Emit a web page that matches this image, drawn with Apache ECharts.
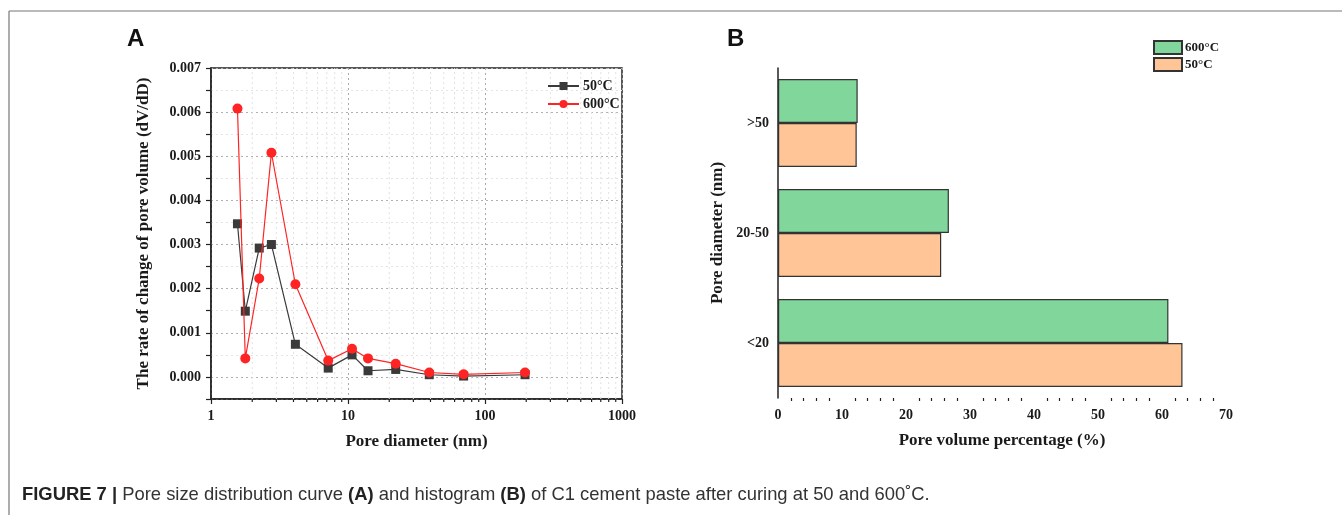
<!DOCTYPE html>
<html>
<head>
<meta charset="utf-8">
<script src="https://cdn.jsdelivr.net/npm/echarts@6/dist/echarts.min.js"></script>
<style>
  html, body { margin: 0; padding: 0; background: #fff; }
  #chart { width: 1342px; height: 515px; }
</style>
</head>
<body>
<div id="chart"></div>
<script>
// ---- Panel A: pore size distribution (log x axis) ----
const poreDiameter = [1.56, 1.78, 2.25, 2.76, 4.13, 7.17, 10.7, 14.0, 22.3, 39.2, 69.8, 196];
const rate50 = [0.00347, 0.00149, 0.00292, 0.00300, 0.00074, 0.00020, 0.00050, 0.00014, 0.00017, 0.00005, 0.00002, 0.00005];
const rate600 = [0.00608, 0.00042, 0.00223, 0.00508, 0.00210, 0.00037, 0.00064, 0.00042, 0.00030, 0.00010, 0.00006, 0.00010];
const xTickLabels = ['1', '10', '100', '1000'];

// ---- Panel B: pore volume percentage by size class ----
const sizeClasses = ['<20', '20-50', '>50'];
const pct50 = [63.2, 25.5, 12.3];
const pct600 = [61.0, 26.7, 12.45];

const SERIF = '"Liberation Serif", "Times New Roman", serif';
const SANS = '"Liberation Sans", Arial, sans-serif';
const Y_MIN = -0.0005, Y_MAX = 0.007;

// minor decade subdivisions on the log axis (2..9, 20..90, 200..900)
const minorX = [];
for (let d = 1; d < 1000; d *= 10) {
  for (let k = 2; k <= 9; k++) minorX.push(k * d);
}

const chart = echarts.init(document.getElementById('chart'), null, { renderer: 'canvas' });

const boldLabel = { fontFamily: SERIF, fontWeight: 'bold', fontSize: 14, color: '#1a1a1a' };

const option = {
  animation: false,
  backgroundColor: '#fff',
  grid: [
    { left: 211, right: 720, top: 68, bottom: 116, show: true, borderColor: '#222', borderWidth: 1.5, backgroundColor: 'transparent' },
    { left: 778, right: 116, top: 68, bottom: 117 }
  ],
  xAxis: [
    {
      type: 'log', gridIndex: 0, logBase: 10, min: 1, max: 1000,
      axisLine: { onZero: false, lineStyle: { color: '#222', width: 1.5 } },
      axisTick: { length: 5, lineStyle: { color: '#222', width: 1.2 } },
      axisLabel: Object.assign({ margin: 10, formatter: v => xTickLabels[Math.round(Math.log10(v))] }, boldLabel),
      splitLine: { show: true, lineStyle: { color: '#aaa', type: [2, 3], width: 1 } },
      name: 'Pore diameter (nm)', nameLocation: 'middle', nameGap: 34,
      nameTextStyle: { fontFamily: SERIF, fontWeight: 'bold', fontSize: 17, color: '#1a1a1a' }
    },
    {
      type: 'value', gridIndex: 1, min: 0, max: 70, interval: 10,
      axisLine: { onZero: false, lineStyle: { color: '#222', width: 1.5 } },
      axisTick: { length: 5, lineStyle: { color: '#222', width: 1.4 } },
      minorTick: { show: true, splitNumber: 5, length: 3, lineStyle: { color: '#222', width: 1.2 } },
      axisLabel: Object.assign({ margin: 10 }, boldLabel),
      splitLine: { show: false },
      name: 'Pore volume percentage (%)', nameLocation: 'middle', nameGap: 34,
      nameTextStyle: { fontFamily: SERIF, fontWeight: 'bold', fontSize: 17, color: '#1a1a1a' }
    }
  ],
  yAxis: [
    {
      type: 'value', gridIndex: 0, min: Y_MIN, max: Y_MAX, interval: 0.0005,
      axisLine: { show: true, onZero: false, lineStyle: { color: '#222', width: 1.5 } },
      axisTick: { show: true, length: 5, lineStyle: { color: '#222', width: 1.2 } },
      axisLabel: Object.assign({
        margin: 10,
        formatter: v => {
          const m = v * 1000;
          if (v < 0 || Math.abs(m - Math.round(m)) > 1e-6) return '';
          return (Math.round(m) / 1000).toFixed(3);
        }
      }, boldLabel),
      splitLine: { show: true, lineStyle: { color: ['#e4e4e4', '#b0b0b0'], type: [2, 3], width: 1 } },
      name: 'The rate of change of pore volume (dV/dD)', nameLocation: 'middle', nameGap: 59,
      nameTextStyle: { fontFamily: SERIF, fontWeight: 'bold', fontSize: 17, color: '#1a1a1a' }
    },
    {
      type: 'category', gridIndex: 1, data: sizeClasses,
      axisLine: { onZero: false, lineStyle: { color: '#222', width: 1.5 } },
      axisTick: { length: 5, lineStyle: { color: '#222', width: 1.2 } },
      axisLabel: Object.assign({ margin: 9 }, boldLabel),
      name: 'Pore diameter (nm)', nameLocation: 'middle', nameGap: 52,
      nameTextStyle: { fontFamily: SERIF, fontWeight: 'bold', fontSize: 17, color: '#1a1a1a' }
    }
  ],
  legend: [
    {
      data: ['50°C', '600°C'], orient: 'vertical', left: 542, top: 74,
      itemWidth: 31, itemHeight: 10, itemGap: 4,
      textStyle: { fontFamily: SERIF, fontWeight: 'bold', fontSize: 14, color: '#1a1a1a', padding: [0, 0, 0, -1] }
    },
    {
      data: [{ name: '600°C ', icon: 'rect' }, { name: '50°C ', icon: 'rect' }], orient: 'vertical', left: 1148, top: 35,
      itemWidth: 28, itemHeight: 13, itemGap: 2,
      textStyle: { fontFamily: SERIF, fontWeight: 'bold', fontSize: 13, color: '#1a1a1a', padding: [0, 0, 0, -2] }
    }
  ],
  series: [
    {
      // light dotted gridlines and short ticks at the minor decade positions
      type: 'custom', xAxisIndex: 0, yAxisIndex: 0, silent: true, z: 1,
      data: minorX.map(v => [v, 0]),
      renderItem: (params, api) => {
        const v = api.value(0);
        const b = api.coord([v, Y_MIN]);
        const t = api.coord([v, Y_MAX]);
        return {
          type: 'group',
          children: [
            { type: 'line', shape: { x1: b[0], y1: b[1], x2: t[0], y2: t[1] }, style: { stroke: '#e2e2e2', lineWidth: 1, lineDash: [2, 3] } },
            { type: 'line', shape: { x1: b[0], y1: b[1], x2: b[0], y2: b[1] + 3 }, style: { stroke: '#222', lineWidth: 1.2 } }
          ]
        };
      }
    },
    {
      name: '50°C', type: 'line', xAxisIndex: 0, yAxisIndex: 0, z: 3,
      data: poreDiameter.map((d, i) => [d, rate50[i]]),
      symbol: 'rect', symbolSize: 9,
      lineStyle: { color: '#3a3a3a', width: 1.2 },
      itemStyle: { color: '#3a3a3a' }
    },
    {
      name: '600°C', type: 'line', xAxisIndex: 0, yAxisIndex: 0, z: 4,
      data: poreDiameter.map((d, i) => [d, rate600[i]]),
      symbol: 'circle', symbolSize: 10,
      lineStyle: { color: '#ff2424', width: 1.2 },
      itemStyle: { color: '#ff2424' }
    },
    {
      name: '600°C ', type: 'bar', xAxisIndex: 1, yAxisIndex: 1,
      data: pct600, barGap: '0%', barCategoryGap: '20%',
      itemStyle: { color: '#80d69b', borderColor: '#333', borderWidth: 1.2 }
    },
    {
      name: '50°C ', type: 'bar', xAxisIndex: 1, yAxisIndex: 1,
      data: pct50, barGap: '0%', barCategoryGap: '20%',
      itemStyle: { color: '#ffc596', borderColor: '#333', borderWidth: 1.2 }
    }
  ],
  graphic: [
    { type: 'line', shape: { x1: 9, y1: 11, x2: 1342, y2: 11 }, style: { stroke: '#777', lineWidth: 1.2 } },
    { type: 'line', shape: { x1: 9, y1: 11, x2: 9, y2: 515 }, style: { stroke: '#777', lineWidth: 1.2 } },
    { type: 'text', left: 127, top: 27, style: { text: 'A', font: 'bold 24px ' + SANS, fill: '#111' } },
    { type: 'text', left: 727, top: 27, style: { text: 'B', font: 'bold 24px ' + SANS, fill: '#111' } },
    {
      type: 'text', left: 22, top: 486,
      style: {
        text: '{b|FIGURE 7 |} Pore size distribution curve {b|(A)} and histogram {b|(B)} of C1 cement paste after curing at 50 and 600˚C.',
        font: '18.4px ' + SANS, fill: '#333',
        rich: { b: { font: 'bold 18.4px ' + SANS, fill: '#222' } }
      }
    }
  ]
};

chart.setOption(option);
</script>
</body>
</html>
